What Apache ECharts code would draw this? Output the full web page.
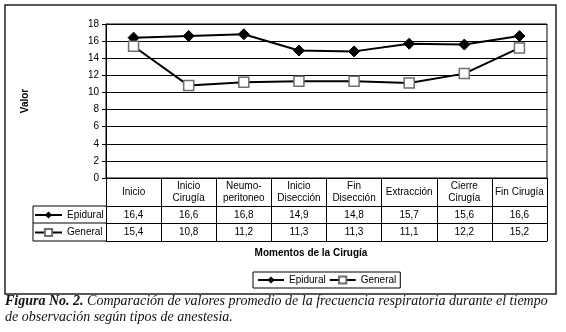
<!DOCTYPE html>
<html>
<head>
<meta charset="utf-8">
<script src="https://cdn.jsdelivr.net/npm/echarts@6/dist/echarts.min.js"></script>
<style>
  html, body { margin: 0; padding: 0; background: #fff; }
  #chart { width: 566px; height: 332px; }
</style>
</head>
<body>
<div id="chart"></div>
<script>
// Momentos de la cirugía (categorías del eje X)
const momentos = ['Inicio', 'Inicio\nCirugía', 'Neumo-\nperitoneo', 'Inicio\nDisección',
                  'Fin\nDisección', 'Extracción', 'Cierre\nCirugía', 'Fin Cirugía'];
// Frecuencia respiratoria promedio por tipo de anestesia
const epidural = [16.4, 16.6, 16.8, 14.9, 14.8, 15.7, 15.6, 16.6];
const general  = [15.4, 10.8, 11.2, 11.3, 11.3, 11.1, 12.2, 15.2];
// Escala del eje de valores
const valorMin = 0, valorMax = 18, valorPaso = 2;

const seriesNames = ['Epidural', 'General'];
const captionBold = 'Figura No. 2.';
const captionLine1 = ' Comparación de valores promedio de la frecuencia respiratoria durante el tiempo';
const captionLine2 = 'de observación según tipos de anestesia.';

const fmt = v => v.toFixed(1).replace('.', ',');
const SANS = 'Liberation Sans';
const SERIF = 'Liberation Serif';

const chart = echarts.init(document.getElementById('chart'), null, { renderer: 'canvas' });

const grid = { left: 106, top: 24, width: 441, height: 154 };
const tableBottom = 63;  // table depth below the category axis
const rowEpi = 28, rowGen = 45;

const valueAxis = (data, offset) => ({
  type: 'category', data: data, gridIndex: 0, position: 'bottom', offset: offset,
  axisLine: { show: true, lineStyle: { color: '#000', width: 1 } },
  axisTick: { show: false },
  axisLabel: { interval: 0, fontFamily: SANS, fontSize: 10, color: '#000',
               verticalAlign: 'middle', margin: 9 },
  splitLine: { show: false }
});

const lineSymbolStyle = {
  Epidural: { symbol: 'diamond', symbolSize: 11, itemStyle: { color: '#000', borderColor: '#000' } },
  General:  { symbol: 'rect', symbolSize: 10, itemStyle: { color: '#fff', borderColor: '#6e6e6e', borderWidth: 1.5 } }
};

const option = {
  backgroundColor: '#fff',
  animation: false,
  grid: Object.assign({ show: true, borderColor: '#000', borderWidth: 1, backgroundColor: 'transparent' }, grid),
  xAxis: [
    {
      type: 'category', data: momentos, boundaryGap: true,
      axisLine: { show: true, lineStyle: { color: '#000', width: 1 } },
      axisTick: { show: true, interval: 0, length: tableBottom, lineStyle: { color: '#000' } },
      axisLabel: { interval: 0, fontFamily: SANS, fontSize: 10, color: '#000',
                   verticalAlign: 'middle', margin: 14, lineHeight: 12 },
      splitLine: { show: false }
    },
    valueAxis(epidural.map(fmt), rowEpi),
    valueAxis(general.map(fmt), rowGen),
    Object.assign(valueAxis(momentos.map(() => ''), tableBottom), { axisLabel: { show: false } })
  ],
  yAxis: {
    type: 'value', min: valorMin, max: valorMax, interval: valorPaso,
    name: 'Valor', nameLocation: 'middle', nameGap: 76, nameRotate: 90,
    nameTextStyle: { fontFamily: SANS, fontSize: 10, fontWeight: 'bold', color: '#000' },
    axisLine: { show: true, lineStyle: { color: '#000', width: 1 } },
    axisTick: { show: true, length: 4, lineStyle: { color: '#000' } },
    axisLabel: { fontFamily: SANS, fontSize: 10, color: '#000', margin: 7 },
    splitLine: { show: true, lineStyle: { color: '#000', width: 1 } }
  },
  legend: [
    {
      data: seriesNames, left: 253, top: 272, orient: 'horizontal',
      backgroundColor: '#fff', borderColor: '#000', borderWidth: 1,
      padding: [3, 4], itemGap: 3, itemWidth: 26, itemHeight: 9,
      selectedMode: false,
      textStyle: { fontFamily: SANS, fontSize: 10, color: '#000' }
    },
    {
      data: seriesNames, left: 34, top: 210, orient: 'vertical',
      padding: 0, itemGap: 7.5, itemWidth: 27, itemHeight: 9,
      selectedMode: false,
      textStyle: { fontFamily: SANS, fontSize: 10, color: '#000' }
    }
  ],
  series: [
    Object.assign({
      name: 'Epidural', type: 'line', data: epidural, xAxisIndex: 0, yAxisIndex: 0,
      lineStyle: { color: '#000', width: 2 }, z: 3
    }, lineSymbolStyle.Epidural),
    Object.assign({
      name: 'General', type: 'line', data: general, xAxisIndex: 0, yAxisIndex: 0,
      lineStyle: { color: '#000', width: 2 }, z: 4
    }, lineSymbolStyle.General)
  ]
};

chart.setOption(option);

// Table rules that extend left of the plot, the outer frame, axis title and caption
const gx0 = grid.left;
const gyB = grid.top + grid.height;
const cellLeft = 33;
const hLine = (y) => ({ type: 'line', shape: { x1: cellLeft, y1: y, x2: gx0, y2: y },
                        style: { stroke: '#000', lineWidth: 1 }, z: 10 });
chart.setOption({
  graphic: [
    { type: 'rect', shape: { x: 5, y: 5, width: 551, height: 289 },
      style: { fill: null, stroke: '#222', lineWidth: 1.5 }, z: -1 },
    hLine(gyB + rowEpi), hLine(gyB + rowGen), hLine(gyB + tableBottom),
    { type: 'line', shape: { x1: cellLeft, y1: gyB + rowEpi, x2: cellLeft, y2: gyB + tableBottom },
      style: { stroke: '#000', lineWidth: 1 }, z: 10 },
    { type: 'text', x: 311, y: 253,
      style: { text: 'Momentos de la Cirugía', font: 'bold 10px ' + SANS, fill: '#000',
               align: 'center', verticalAlign: 'middle' } },
    { type: 'text', x: 5, y: 308,
      style: {
        text: '{b|' + captionBold + '}{i|' + captionLine1 + '}',
        verticalAlign: 'bottom',
        rich: {
          b: { font: 'italic bold 14px ' + SERIF, fill: '#111' },
          i: { font: 'italic 14px ' + SERIF, fill: '#111' }
        }
      } },
    { type: 'text', x: 5, y: 324,
      style: { text: captionLine2, font: 'italic 14px ' + SERIF, fill: '#111', verticalAlign: 'bottom' } }
  ]
});
</script>
</body>
</html>
